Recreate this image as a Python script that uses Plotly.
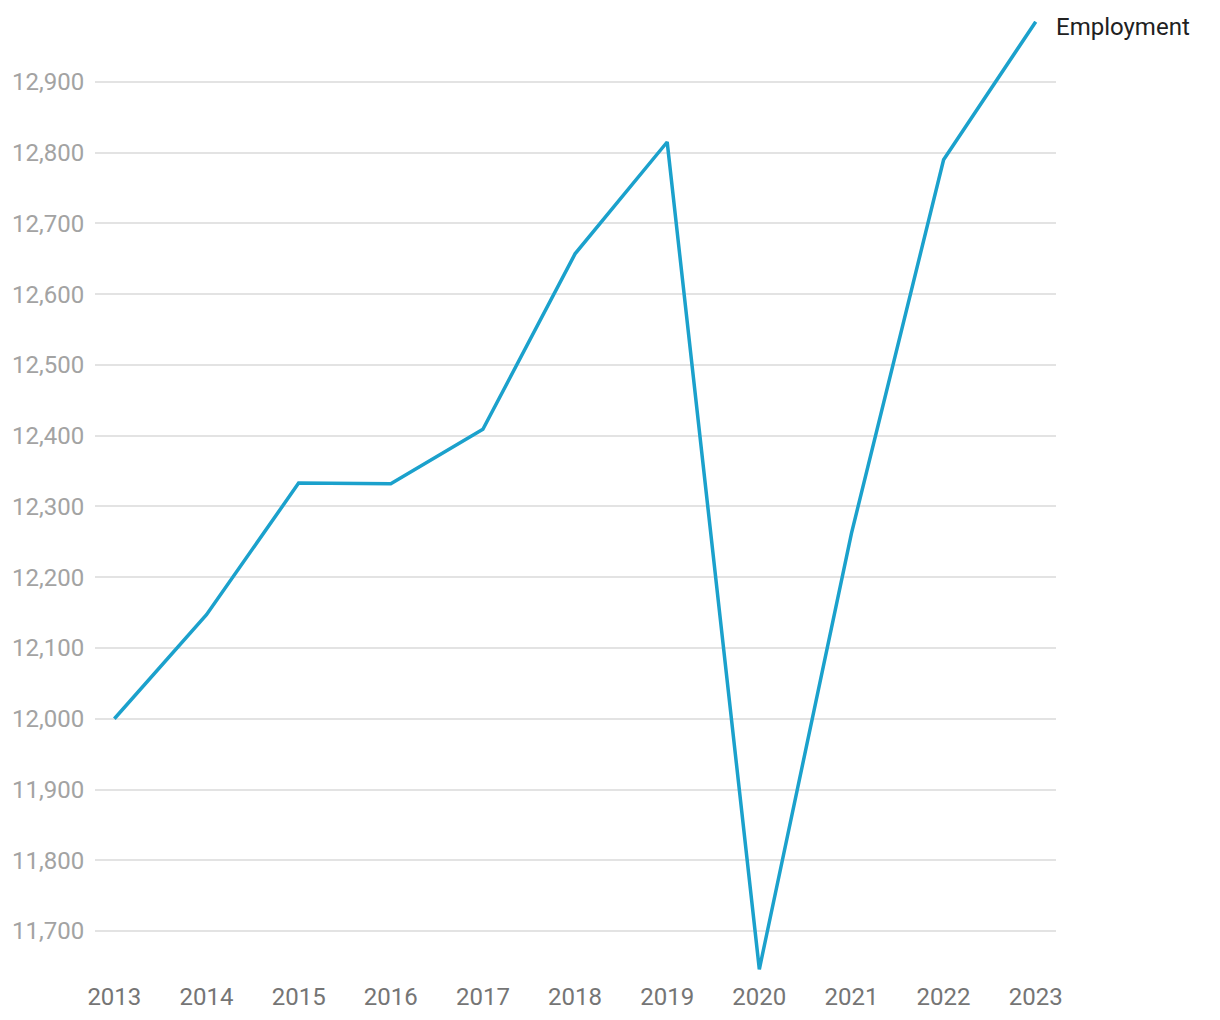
import plotly.graph_objects as go

years = [2013, 2014, 2015, 2016, 2017, 2018, 2019, 2020, 2021, 2022, 2023]
employment = [12000, 12147, 12333, 12332, 12409, 12657, 12815, 11646, 12262, 12790, 12985]
y_ticks = [11700, 11800, 11900, 12000, 12100, 12200, 12300, 12400, 12500, 12600, 12700, 12800, 12900]
series_name = "Employment"

fig = go.Figure()
fig.add_trace(go.Scatter(
    x=years, y=employment, mode="lines", name=series_name,
    line=dict(color="#1ba1cc", width=3.5), showlegend=False,
))
fig.add_annotation(
    x=years[-1], y=employment[-1], text=series_name, showarrow=False,
    xanchor="left", yanchor="middle", xshift=18, yshift=-5,
    font=dict(family="Roboto", size=24, color="#212121"),
)
fig.update_layout(
    width=1212, height=1012,
    margin=dict(l=87, r=164, t=13, b=50),
    paper_bgcolor="white", plot_bgcolor="white",
    font=dict(family="Roboto"),
)
fig.update_xaxes(
    range=[2012.79, 2023.22], tickvals=years, ticktext=[str(y) for y in years],
    showgrid=False, zeroline=False, showline=False, automargin=False,
    tickfont=dict(family="Roboto", size=24, color="#757575"),
    ticks="outside", ticklen=5, tickcolor="rgba(0,0,0,0)",
)
fig.update_yaxes(
    range=[11645, 12986], tickvals=y_ticks, tickformat=",",
    showgrid=True, gridcolor="#e3e3e3", gridwidth=1.5,
    zeroline=False, showline=False, automargin=False,
    tickfont=dict(family="Roboto", size=24, color="#a3a3a3"),
    ticks="outside", ticklen=5, tickcolor="rgba(0,0,0,0)",
)
fig.write_html("out.html")
